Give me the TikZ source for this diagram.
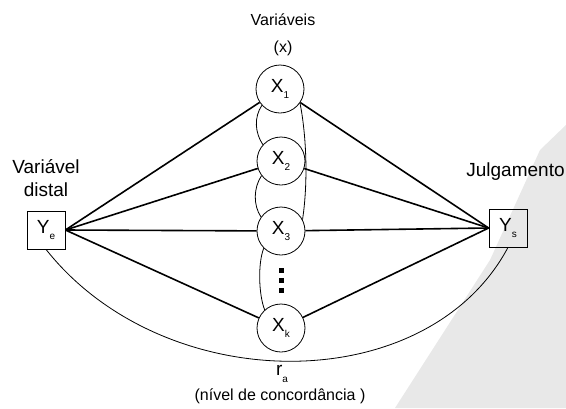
\documentclass[tikz,border=0pt]{standalone}
\usepackage{fontspec}
\setmainfont{Liberation Sans}
\newcommand{\vsub}[1]{\raisebox{-0.35em}{\fontsize{10}{10}\selectfont #1}}
\begin{document}
\begin{tikzpicture}[x=1pt,y=-1pt,font=\fontsize{19}{23}\selectfont,
  box/.style={draw, line width=0.8pt, minimum size=38pt, inner sep=0pt},
  var/.style={draw, circle, line width=0.8pt, minimum size=48pt, inner sep=0pt},
  link/.style={line width=1.6pt},
  arc/.style={line width=0.8pt}]
\useasboundingbox (0,0) rectangle (566,408);
\fill [gray!18] (566,125) -- (566,408) -- (395,408) -- (490,260) -- (540,150) -- cycle;

\node[box] (ye) at (46,230) {Y\vsub{e}};
\node[box] (ys) at (508,228) {Y\vsub{s}};

\node[var] (x1) at (280,89) {X\vsub{1}};
\node[var] (x2) at (281,161) {X\vsub{2}};
\node[var] (x3) at (281,231) {X\vsub{3}};
\node[var] (xk) at (281,328) {X\vsub{k}};
\foreach \y in {270,280,290}
  \fill (278.5,\y-2.5) rectangle (283.5,\y+2.5);

\node[font=\fontsize{16}{16}\selectfont] (vtitle) at (283,20) {Variáveis};
\node[font=\fontsize{16}{16}\selectfont] (vx) at (283,48) {(x)};
\node[align=center] (distal) at (46,178) {Variável\\distal};
\node (julg) at (515.5,172) {Julgamento};
\node (ra) at (282,374) {r\vsub{a}};
\node[font=\fontsize{16}{16}\selectfont] (nivel) at (280,396) {(nível de concordância )};

\foreach \n in {x1,x2,x3,xk}{
  \draw [link] (ye.east) -- (\n);
  \draw [link] (\n) -- (ys.west);
}

\draw [arc] (x1.222) .. controls +(-8,12) and +(-8,-12) .. (x2.138);
\draw [arc] (x2.217) .. controls +(-8,12) and +(-8,-12) .. (x3.145);
\draw [arc] (x3.225) .. controls +(-6,15) and +(-6,-15) .. (xk.132);
\draw [arc] (x1.-35) .. controls +(6,30) and +(6,-40) .. (x3.28);
\draw [arc] (ye.south) .. controls +(118,149) and +(-81,152) .. (ys.south);
\end{tikzpicture}
\end{document}
